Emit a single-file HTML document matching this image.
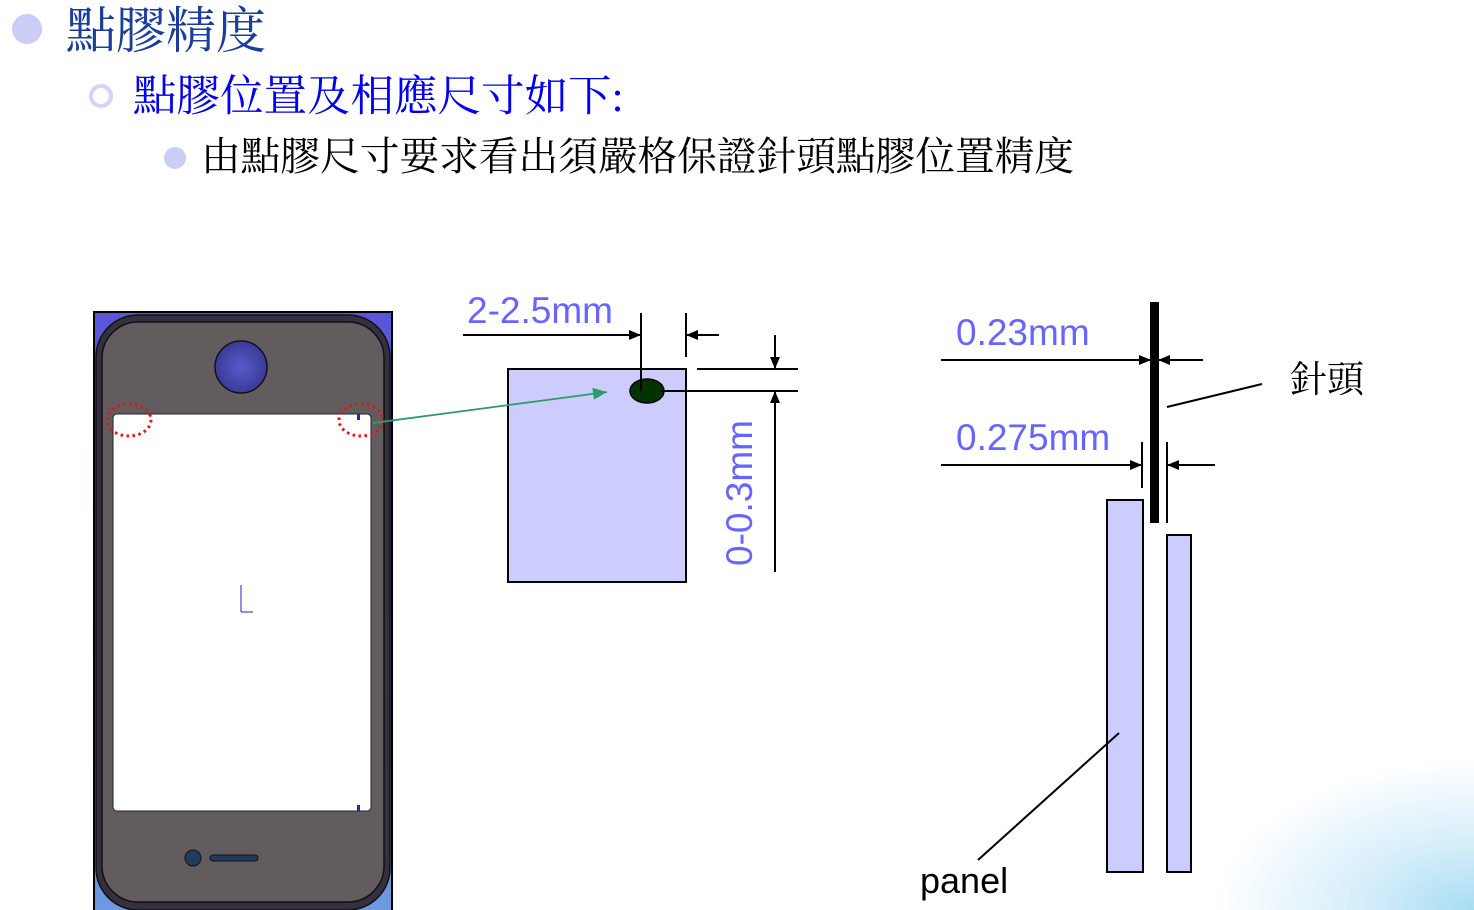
<!DOCTYPE html>
<html><head><meta charset="utf-8"><style>
body{margin:0;width:1474px;height:910px;overflow:hidden;background:#fff;position:relative;font-family:"Liberation Serif","Noto Serif CJK TC",serif}
.t{position:absolute;white-space:nowrap}
.bg{position:absolute;left:0;top:0;width:1474px;height:910px;background:radial-gradient(ellipse 260px 150px at 1474px 910px,#a9dcf3 0%,#d6eefa 45%,rgba(255,255,255,0) 100%)}
</style></head><body>
<div class="bg"></div>
<div style="position:absolute;left:12px;top:14px;width:30px;height:30px;border-radius:50%;background:#cbcdf6"></div>
<div class="t" style="left:66px;top:3px;font-size:50px;color:#1a3c9a;line-height:56px">點膠精度</div>
<div style="position:absolute;left:89px;top:84px;width:24px;height:24px;border-radius:50%;border:4px solid #d2d3f8;box-sizing:border-box"></div>
<div class="t" style="left:133px;top:72px;font-size:43.5px;color:#0000ee;line-height:50px">點膠位置及相應尺寸如下:</div>
<div style="position:absolute;left:164px;top:147px;width:22px;height:22px;border-radius:50%;background:#cbcdf6"></div>
<div class="t" style="left:201px;top:134px;font-size:39.7px;color:#000;line-height:46px">由點膠尺寸要求看出須嚴格保證針頭點膠位置精度</div>
<svg width="1474" height="910" style="position:absolute;left:0;top:0" font-family="Liberation Sans, sans-serif">
<defs>
<linearGradient id="pb" x1="0" y1="0" x2="0" y2="1"><stop offset="0" stop-color="#5a55d8"/><stop offset="1" stop-color="#6d9ae0"/></linearGradient>
<radialGradient id="cam"><stop offset="0" stop-color="#5a5acb"/><stop offset="1" stop-color="#3a3a9a"/></radialGradient>
<marker id="a" markerWidth="12" markerHeight="10" refX="12" refY="5" orient="auto" markerUnits="userSpaceOnUse"><path d="M0,0L12,5L0,10z" fill="#000"/></marker>
<marker id="g" markerWidth="14" markerHeight="12" refX="14" refY="6" orient="auto" markerUnits="userSpaceOnUse"><path d="M0,0L14,6L0,12z" fill="#2e9a6a"/></marker>
</defs>
<!-- phone -->
<rect x="94" y="312" width="298" height="600" fill="url(#pb)" stroke="#000" stroke-width="2"/>
<rect x="96" y="315" width="294" height="595" rx="42" fill="#35303f" stroke="#111" stroke-width="1.5"/>
<rect x="102" y="322" width="282" height="580" rx="36" fill="#625c5e" stroke="#111" stroke-width="1.5"/>
<rect x="113" y="414" width="258" height="397" rx="4" fill="#fff" stroke="#222" stroke-width="1"/>
<circle cx="241" cy="367" r="26" fill="url(#cam)" stroke="#111" stroke-width="1.5"/>
<circle cx="193" cy="858" r="8" fill="#223a5c" stroke="#111"/>
<rect x="210" y="855" width="48" height="6" rx="3" fill="#223a5c" stroke="#111"/>
<rect x="357" y="805" width="3" height="6" fill="#2a2a9a"/>
<rect x="357" y="414" width="3" height="6" fill="#2a2a9a"/>
<path d="M241,585V612M241,612H253" stroke="#2222cc" stroke-width="1"/>
<ellipse cx="129" cy="420" rx="22" ry="16" fill="none" stroke="#ee1111" stroke-width="3" stroke-dasharray="2.5 3.5"/>
<ellipse cx="361" cy="420" rx="22" ry="16" fill="none" stroke="#ee1111" stroke-width="3" stroke-dasharray="2.5 3.5"/>
<!-- middle -->
<rect x="508" y="369" width="178" height="213" fill="#ccccff" stroke="#000" stroke-width="2"/>
<line x1="373" y1="423" x2="607" y2="392" stroke="#2e9a6a" stroke-width="1.8" marker-end="url(#g)"/>
<ellipse cx="647" cy="391" rx="17" ry="12" fill="#003300" stroke="#000" stroke-width="1.5"/>
<g stroke="#000" stroke-width="2" fill="none">
<line x1="641" y1="313" x2="641" y2="391"/>
<line x1="686" y1="313" x2="686" y2="357"/>
<line x1="463" y1="335" x2="641" y2="335" marker-end="url(#a)"/>
<line x1="719" y1="335" x2="686" y2="335" marker-end="url(#a)"/>
<line x1="697" y1="369" x2="798" y2="369"/>
<line x1="660" y1="391" x2="798" y2="391"/>
<line x1="775" y1="335" x2="775" y2="369" marker-end="url(#a)"/>
<line x1="775" y1="572" x2="775" y2="391" marker-end="url(#a)"/>
</g>
<text x="467" y="323" font-size="37" fill="#6666ff">2-2.5mm</text>
<text transform="translate(752,493) rotate(-90)" text-anchor="middle" font-size="37" fill="#6666ff">0-0.3mm</text>
<!-- right -->
<rect x="1107" y="500" width="36" height="372" fill="#ccccff" stroke="#000" stroke-width="2"/>
<rect x="1167" y="535" width="24" height="337" fill="#ccccff" stroke="#000" stroke-width="2"/>
<rect x="1150" y="302" width="9" height="221" fill="#000"/>
<g stroke="#000" stroke-width="2" fill="none">
<line x1="941" y1="360" x2="1151" y2="360" marker-end="url(#a)"/>
<line x1="1203" y1="360" x2="1158" y2="360" marker-end="url(#a)"/>
<line x1="1167" y1="407" x2="1262" y2="384"/>
<line x1="941" y1="465" x2="1142" y2="465" marker-end="url(#a)"/>
<line x1="1215" y1="465" x2="1167" y2="465" marker-end="url(#a)"/>
<line x1="1142" y1="442" x2="1142" y2="488"/>
<line x1="1167" y1="442" x2="1167" y2="523"/>
<line x1="978" y1="860" x2="1119" y2="733"/>
</g>
<text x="956" y="345" font-size="37" fill="#6666ff">0.23mm</text>
<text x="956" y="450" font-size="37" fill="#6666ff">0.275mm</text>
<text x="920" y="893" font-size="36" fill="#000">panel</text>
<text x="1290" y="392" font-size="37" fill="#000" font-family="Liberation Serif, Noto Serif CJK TC, serif">針頭</text>
</svg>
</body></html>
